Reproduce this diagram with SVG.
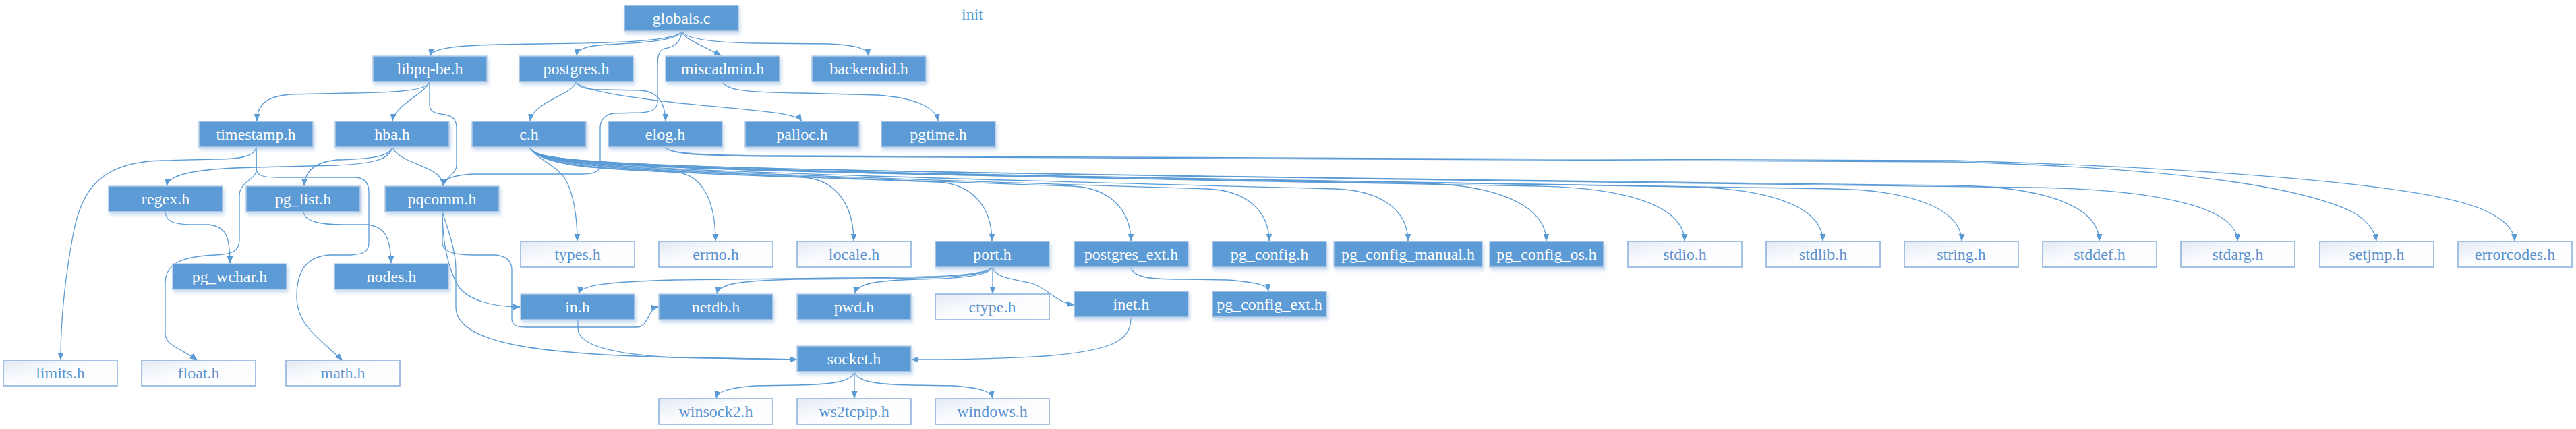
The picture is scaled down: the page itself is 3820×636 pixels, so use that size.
<svg xmlns="http://www.w3.org/2000/svg" width="3820" height="636" viewBox="0 0 3820 636">
<style>
text{font-family:"Liberation Serif","Times New Roman",serif;font-size:24px;text-anchor:middle}
.f rect{fill:#5b9bd5;stroke:#b9cde6;stroke-width:1.5;filter:url(#sh)}
.f text{fill:#ffffff}
.h rect{fill:url(#hg);stroke:#8db3df;stroke-width:1.6}
.h text{fill:#5b93cf}
#edges path{fill:none;stroke:#5b9bd5;stroke-width:1.3;marker-end:url(#ah)}
</style>
<defs>
<linearGradient id="hg" x1="0" y1="0" x2="1" y2="1">
<stop offset="0" stop-color="#e3eaf5"/>
<stop offset="0.45" stop-color="#fbfcfe"/>
<stop offset="1" stop-color="#ffffff"/>
</linearGradient>
<filter id="sh" x="-10%" y="-20%" width="130%" height="170%">
<feDropShadow dx="2" dy="4" stdDeviation="2.5" flood-color="#9dbfe3" flood-opacity="0.55"/>
</filter>
<marker id="ah" markerWidth="12" markerHeight="10" refX="11" refY="4.5" orient="auto" markerUnits="userSpaceOnUse">
<path d="M0,0 L11,4.5 L0,9 z" fill="#5b9bd5"/>
</marker>
</defs>
<rect width="3820" height="636" fill="#ffffff"/>
<text x="1442" y="29" fill="#5b9bd5">init</text>
<g id="edges">
<path d="M1011,46 C1005,62 900,64 800,65 C700,66 640,68 638,83"/>
<path d="M1011,46 C1005,62 940,64 900,66 C870,68 856,72 855,83"/>
<path d="M1011,46 C1013,58 1040,66 1070,83"/>
<path d="M1011,46 C1016,58 1060,63 1120,64 L1230,65 C1270,67 1287,72 1288,83"/>
<path d="M1011,46 C1010,62 1000,70 985,72 C976,75 975,85 975,100 L975,150 C975,163 965,166 950,167 L910,168 C895,170 890,180 890,190 L890,245 C890,255 880,258 865,258 L700,258 C670,260 658,265 657,276"/>
<path d="M637,121 C635,133 600,137 520,138 L430,140 C395,143 381,155 381,180"/>
<path d="M637,121 C630,140 585,155 582,180"/>
<path d="M637,121 L637,155 C637,166 645,168 660,170 C672,172 677,178 677,190 L677,245 C677,258 660,262 657,276"/>
<path d="M854,121 C852,140 790,150 786,180"/>
<path d="M854,121 C858,132 875,133 900,133 L950,134 C975,136 986,150 987,180"/>
<path d="M854,121 C862,135 940,145 1000,152 C1100,163 1180,165 1189,180"/>
<path d="M1072,121 C1075,133 1100,137 1190,138 L1300,141 C1360,145 1388,160 1391,180"/>
<path d="M380,218 C378,232 355,236 320,236 L240,238 C150,240 120,280 108,350 C95,420 90,480 90,534"/>
<path d="M380,218 L380,253 C380,265 355,270 355,290 L355,355 C355,372 345,377 320,378 C270,380 245,390 245,420 L245,495 C245,512 270,518 293,534"/>
<path d="M380,218 L380,250 C380,260 390,263 410,263 L525,263 C540,263 547,270 547,285 L547,360 C547,373 538,377 520,378 L490,378 C455,380 440,400 440,440 C440,480 470,500 508,534"/>
<path d="M582,218 C578,235 560,242 500,245 L380,248 C290,250 250,258 247,276"/>
<path d="M582,218 C578,232 550,236 500,237 C465,240 452,255 451,276"/>
<path d="M582,218 C588,238 635,245 650,260 C655,266 657,270 657,276"/>
<path d="M245,314 C246,330 260,333 290,333 L310,333 C335,336 341,350 341,391"/>
<path d="M450,314 C452,330 480,333 510,333 L545,333 C570,336 579,350 580,391"/>
<path d="M656,314 C656,360 665,400 680,425 C695,445 730,455 772,455"/>
<path d="M656,314 L656,360 C656,372 670,378 700,378 L735,378 C752,380 759,388 759,400 L759,472 C759,482 765,485 780,485 L945,485 C962,485 960,457 977,455"/>
<path d="M656,314 C664,340 676,370 676,400 L676,455 C676,510 800,525 1000,530 L1182,533"/>
<path d="M857,474 L857,487 C857,510 900,525 1000,530 L1182,533"/>
<path d="M1677,471 C1677,505 1650,520 1550,528 C1470,533 1400,533 1351,533"/>
<path d="M1267,552 C1262,565 1240,570 1180,571 L1120,572 C1080,575 1064,580 1062,591"/>
<path d="M1267,552 L1267,591"/>
<path d="M1267,552 C1272,565 1294,570 1354,571 L1414,572 C1454,575 1470,580 1472,591"/>
<path d="M1472,396 L1472,436"/>
<path d="M1472,396 C1476,412 1500,413 1530,420 C1555,428 1565,448 1593,452"/>
<path d="M1472,396 C1465,410 1420,413 1360,414 C1300,416 1270,420 1268,436"/>
<path d="M1472,396 C1462,410 1400,412 1300,413 L1180,414 C1100,416 1066,420 1063,436"/>
<path d="M1472,396 C1460,410 1380,411 1250,412 L1000,415 C900,418 862,422 858,436"/>
<path d="M1677,396 C1680,410 1700,414 1750,414 L1820,415 C1860,418 1880,422 1881,432"/>
<path d="M785,218 C795,235 825,245 838,265 C850,285 856,320 856,358"/>
<path d="M785,218 C800,245 870,250 1000,255 C1037,257 1061,290 1061,358"/>
<path d="M785,218 C800,245 870,252 1190,263 C1236,265 1266,300 1266,358"/>
<path d="M785,218 C800,245 870,252 1390,270 C1440,272 1471,305 1471,358"/>
<path d="M785,218 C800,245 870,252 1590,276 C1642,278 1677,308 1677,358"/>
<path d="M785,218 C800,245 870,252 1790,280 C1845,282 1882,310 1882,358"/>
<path d="M785,218 C800,245 870,252 1980,280 C2045,282 2088,310 2088,358"/>
<path d="M785,218 C800,245 870,252 2110,272 C2220,274 2293,305 2293,358"/>
<path d="M785,218 C800,245 870,252 2280,276 C2410,278 2498,305 2498,358"/>
<path d="M785,218 C800,245 870,252 2500,277 C2620,279 2703,305 2703,358"/>
<path d="M785,218 C800,245 870,252 2720,280 C2830,282 2909,308 2909,358"/>
<path d="M785,218 C800,245 870,252 2900,275 C3030,277 3113,305 3113,358"/>
<path d="M785,218 C800,245 870,252 3010,278 C3190,280 3318,305 3318,358"/>
<path d="M986,218 C992,229 1040,231 1150,232 L2900,240 C3250,250 3420,280 3490,315 C3515,330 3522,345 3524,358"/>
<path d="M986,218 C992,228 1040,230 1150,231 L2900,238 C3300,250 3600,275 3680,310 C3715,325 3728,340 3729,358"/>
</g>
<g id="n-globals" class="f"><rect x="926" y="8" width="169" height="38"/><text x="1010.5" y="35">globals.c</text></g>
<g id="n-libpq-be" class="f"><rect x="553" y="83" width="169" height="38"/><text x="637.5" y="110">libpq-be.h</text></g>
<g id="n-postgres" class="f"><rect x="770" y="83" width="169" height="38"/><text x="854.5" y="110">postgres.h</text></g>
<g id="n-miscadmin" class="f"><rect x="987" y="83" width="169" height="38"/><text x="1071.5" y="110">miscadmin.h</text></g>
<g id="n-backendid" class="f"><rect x="1204" y="83" width="169" height="38"/><text x="1288.5" y="110">backendid.h</text></g>
<g id="n-timestamp" class="f"><rect x="295" y="180" width="169" height="38"/><text x="379.5" y="207">timestamp.h</text></g>
<g id="n-hba" class="f"><rect x="497" y="180" width="169" height="38"/><text x="581.5" y="207">hba.h</text></g>
<g id="n-c" class="f"><rect x="700" y="180" width="169" height="38"/><text x="784.5" y="207">c.h</text></g>
<g id="n-elog" class="f"><rect x="902" y="180" width="169" height="38"/><text x="986.5" y="207">elog.h</text></g>
<g id="n-palloc" class="f"><rect x="1105" y="180" width="169" height="38"/><text x="1189.5" y="207">palloc.h</text></g>
<g id="n-pgtime" class="f"><rect x="1307" y="180" width="169" height="38"/><text x="1391.5" y="207">pgtime.h</text></g>
<g id="n-regex" class="f"><rect x="161" y="276" width="169" height="38"/><text x="245.5" y="303">regex.h</text></g>
<g id="n-pg_list" class="f"><rect x="365" y="276" width="169" height="38"/><text x="449.5" y="303">pg_list.h</text></g>
<g id="n-pqcomm" class="f"><rect x="571" y="276" width="169" height="38"/><text x="655.5" y="303">pqcomm.h</text></g>
<g id="n-pg_wchar" class="f"><rect x="256" y="391" width="169" height="38"/><text x="340.5" y="418">pg_wchar.h</text></g>
<g id="n-nodes" class="f"><rect x="496" y="391" width="169" height="38"/><text x="580.5" y="418">nodes.h</text></g>
<g id="n-limits" class="h"><rect x="5" y="534" width="169" height="38"/><text x="89.5" y="561">limits.h</text></g>
<g id="n-float" class="h"><rect x="210" y="534" width="169" height="38"/><text x="294.5" y="561">float.h</text></g>
<g id="n-math" class="h"><rect x="424" y="534" width="169" height="38"/><text x="508.5" y="561">math.h</text></g>
<g id="n-types" class="h"><rect x="772" y="358" width="169" height="38"/><text x="856.5" y="385">types.h</text></g>
<g id="n-errno" class="h"><rect x="977" y="358" width="169" height="38"/><text x="1061.5" y="385">errno.h</text></g>
<g id="n-locale" class="h"><rect x="1182" y="358" width="169" height="38"/><text x="1266.5" y="385">locale.h</text></g>
<g id="n-port" class="f"><rect x="1387" y="358" width="169" height="38"/><text x="1471.5" y="385">port.h</text></g>
<g id="n-postgres_ext" class="f"><rect x="1593" y="358" width="169" height="38"/><text x="1677.5" y="385">postgres_ext.h</text></g>
<g id="n-pg_config" class="f"><rect x="1798" y="358" width="169" height="38"/><text x="1882.5" y="385">pg_config.h</text></g>
<g id="n-pg_config_manual" class="f"><rect x="1978" y="358" width="220" height="38"/><text x="2088" y="385">pg_config_manual.h</text></g>
<g id="n-pg_config_os" class="f"><rect x="2209" y="358" width="169" height="38"/><text x="2293.5" y="385">pg_config_os.h</text></g>
<g id="n-stdio" class="h"><rect x="2414" y="358" width="169" height="38"/><text x="2498.5" y="385">stdio.h</text></g>
<g id="n-stdlib" class="h"><rect x="2619" y="358" width="169" height="38"/><text x="2703.5" y="385">stdlib.h</text></g>
<g id="n-string" class="h"><rect x="2824" y="358" width="169" height="38"/><text x="2908.5" y="385">string.h</text></g>
<g id="n-stddef" class="h"><rect x="3029" y="358" width="169" height="38"/><text x="3113.5" y="385">stddef.h</text></g>
<g id="n-stdarg" class="h"><rect x="3234" y="358" width="169" height="38"/><text x="3318.5" y="385">stdarg.h</text></g>
<g id="n-setjmp" class="h"><rect x="3440" y="358" width="169" height="38"/><text x="3524.5" y="385">setjmp.h</text></g>
<g id="n-errorcodes" class="h"><rect x="3645" y="358" width="169" height="38"/><text x="3729.5" y="385">errorcodes.h</text></g>
<g id="n-in" class="f"><rect x="772" y="436" width="169" height="38"/><text x="856.5" y="463">in.h</text></g>
<g id="n-netdb" class="f"><rect x="977" y="436" width="169" height="38"/><text x="1061.5" y="463">netdb.h</text></g>
<g id="n-pwd" class="f"><rect x="1182" y="436" width="169" height="38"/><text x="1266.5" y="463">pwd.h</text></g>
<g id="n-ctype" class="h"><rect x="1387" y="436" width="169" height="38"/><text x="1471.5" y="463">ctype.h</text></g>
<g id="n-inet" class="f"><rect x="1593" y="432" width="169" height="38"/><text x="1677.5" y="459">inet.h</text></g>
<g id="n-pg_config_ext" class="f"><rect x="1798" y="432" width="169" height="38"/><text x="1882.5" y="459">pg_config_ext.h</text></g>
<g id="n-socket" class="f"><rect x="1182" y="513" width="169" height="38"/><text x="1266.5" y="540">socket.h</text></g>
<g id="n-winsock2" class="h"><rect x="977" y="591" width="169" height="38"/><text x="1061.5" y="618">winsock2.h</text></g>
<g id="n-ws2tcpip" class="h"><rect x="1182" y="591" width="169" height="38"/><text x="1266.5" y="618">ws2tcpip.h</text></g>
<g id="n-windows" class="h"><rect x="1387" y="591" width="169" height="38"/><text x="1471.5" y="618">windows.h</text></g>
</svg>
